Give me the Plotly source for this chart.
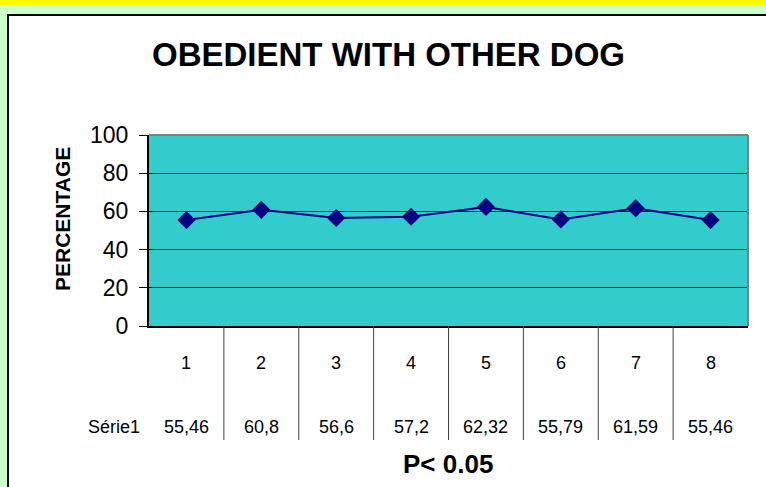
import plotly.graph_objects as go

categories = [1, 2, 3, 4, 5, 6, 7, 8]
values = [55.46, 60.8, 56.6, 57.2, 62.32, 55.79, 61.59, 55.46]
value_labels = ["55,46", "60,8", "56,6", "57,2", "62,32", "55,79", "61,59", "55,46"]
series_name = "Série1"
y_ticks = [0, 20, 40, 60, 80, 100]

W, H = 766, 487
def px(x):
    return x / W
def py(y):
    return 1 - y / H

x0, x1 = 149, 748
y_top, y_bot = 135, 326
FONT = "Liberation Sans, Arial, sans-serif"

fig = go.Figure()
fig.add_trace(go.Scatter(
    x=categories, y=values, mode="lines+markers",
    line=dict(color="#000080", width=2),
    marker=dict(symbol="diamond", size=14, color="#000080"),
    showlegend=False, hoverinfo="skip"))

shapes = [
    dict(type="rect", xref="paper", yref="paper", x0=0, x1=1, y0=py(5), y1=1,
         fillcolor="#FFFF00", line=dict(width=0), layer="below"),
    dict(type="rect", xref="paper", yref="paper", x0=px(8), x1=px(W + 20), y0=py(H + 20), y1=py(15),
         fillcolor="#FFFFFF", line=dict(color="#000000", width=2), layer="below"),
    dict(type="rect", xref="x domain", yref="y domain", x0=0, x1=1, y0=0, y1=1,
         fillcolor="#33CCCC", line=dict(width=0), layer="below"),
    dict(type="line", xref="paper", yref="paper", x0=px(x0), x1=px(x1), y0=py(y_top), y1=py(y_top),
         line=dict(color="#808080", width=2), layer="above"),
    dict(type="line", xref="paper", yref="paper", x0=px(x1), x1=px(x1), y0=py(y_top), y1=py(y_bot),
         line=dict(color="#808080", width=2), layer="above"),
]
for c in categories[:-1]:
    shapes.append(dict(type="line", xref="x", yref="paper", x0=c + 0.5, x1=c + 0.5,
                       y0=py(y_bot), y1=py(440), line=dict(color="#404040", width=1)))

annotations = []
for c, lab in zip(categories, value_labels):
    annotations.append(dict(x=c, y=py(363), xref="x", yref="paper", text=str(c), showarrow=False,
                            font=dict(size=18, color="black", family=FONT),
                            xanchor="center", yanchor="middle"))
    annotations.append(dict(x=c, y=py(427), xref="x", yref="paper", text=lab, showarrow=False,
                            font=dict(size=18, color="black", family=FONT),
                            xanchor="center", yanchor="middle"))
annotations.append(dict(x=px(142), y=py(427), xref="paper", yref="paper", text=series_name, showarrow=False,
                        font=dict(size=18, color="black", family=FONT),
                        xanchor="right", yanchor="middle"))
annotations.append(dict(x=px(388), y=py(55), xref="paper", yref="paper", text="<b>OBEDIENT WITH OTHER DOG</b>",
                        showarrow=False, font=dict(size=33, color="black", family=FONT),
                        xanchor="center", yanchor="middle"))
annotations.append(dict(x=px(448), y=py(464), xref="paper", yref="paper", text="<b>P< 0.05</b>",
                        showarrow=False, font=dict(size=26, color="black", family=FONT),
                        xanchor="center", yanchor="middle"))
annotations.append(dict(x=px(62), y=py(219), xref="paper", yref="paper", text="<b>PERCENTAGE</b>",
                        showarrow=False, textangle=-90,
                        font=dict(size=21, color="black", family=FONT),
                        xanchor="center", yanchor="middle"))

fig.update_layout(
    template="none",
    width=W, height=H, autosize=False, margin=dict(l=0, r=0, t=0, b=0, pad=0),
    paper_bgcolor="#CCFFCC", plot_bgcolor="rgba(0,0,0,0)",
    shapes=shapes, annotations=annotations,
    xaxis=dict(domain=[px(x0), px(x1)], range=[0.5, 8.5], showticklabels=False, showgrid=False,
               automargin=False,
               zeroline=False, showline=True, linecolor="black", linewidth=2, ticks=""),
    yaxis=dict(domain=[py(y_bot), py(y_top)], range=[0, 100], tickvals=y_ticks,
               automargin=False,
               showgrid=True, gridcolor="#1a1a1a", gridwidth=1, zeroline=False,
               showline=True, linecolor="black", linewidth=2,
               ticks="outside", ticklen=8, tickcolor="black", tickwidth=1,
               ticklabelstandoff=6,
               tickfont=dict(size=23, color="black", family=FONT)),
)

fig.write_html("out.html", config={"displayModeBar": False},
               post_script="document.body.style.margin='0';document.body.style.overflow='hidden';")
